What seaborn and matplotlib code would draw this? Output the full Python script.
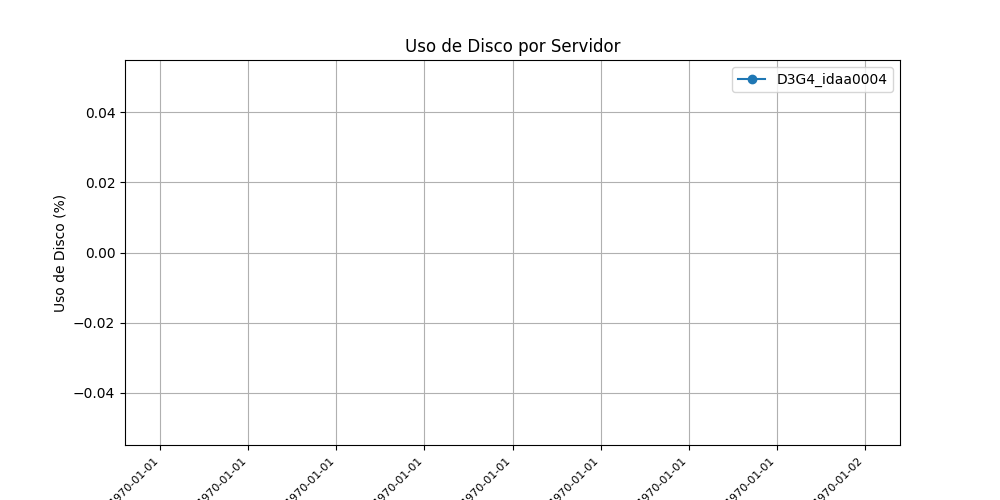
import matplotlib
matplotlib.use("Agg")
import matplotlib.pyplot as plt
import matplotlib.dates as mdates
import seaborn as sns
import pandas as pd

servers = ["D3G4_idaa0004"]
timestamps = pd.to_datetime(pd.Series([], dtype="datetime64[ns]"))
usage = pd.Series([], dtype=float)

fig, ax = plt.subplots(figsize=(10, 5), dpi=100)
for s in servers:
    ax.plot(timestamps, usage, marker="o", label=s)
ax.xaxis_date()
ax.set_xlim(mdates.date2num(pd.Timestamp("1970-01-01")) - 0.05,
            mdates.date2num(pd.Timestamp("1970-01-02")) + 0.05)
ax.set_ylim(-0.055, 0.055)
ax.xaxis.set_major_locator(mdates.HourLocator(byhour=range(0, 24, 3)))
ax.xaxis.set_major_formatter(mdates.DateFormatter("%Y-%m-%d"))
plt.setp(ax.get_xticklabels(), rotation=45, ha="right", fontsize=8)
ax.set_title("Uso de Disco por Servidor")
ax.set_ylabel("Uso de Disco (%)")
ax.grid(True)
ax.legend()
fig.savefig("out.png")
